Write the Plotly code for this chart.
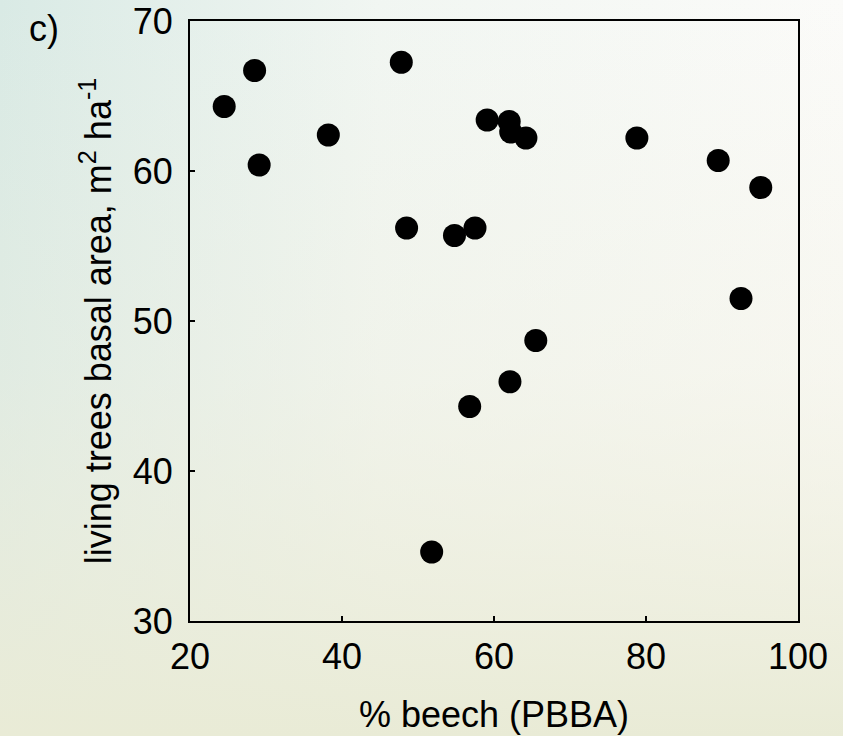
import base64
import plotly.graph_objects as go

# Data
pbba = [24.5, 28.5, 29.1, 38.2, 47.8, 48.5, 51.8, 54.8, 56.8, 57.5,
        59.1, 62.0, 62.2, 62.1, 64.2, 65.5, 78.8, 89.5, 92.5, 95.1]
basal_area = [64.3, 66.7, 60.4, 62.4, 67.25, 56.2, 34.6, 55.7, 44.3, 56.2,
              63.4, 63.3, 62.6, 45.95, 62.2, 48.7, 62.2, 60.7, 51.5, 58.9]
x_ticks = [20, 40, 60, 80, 100]
y_ticks = [30, 40, 50, 60, 70]

svg = """<svg xmlns='http://www.w3.org/2000/svg' width='843' height='736' preserveAspectRatio='none'>
<defs>
<linearGradient id='h' x1='0' y1='0' x2='1' y2='0'>
<stop offset='0' stop-color='#d9eae5'/>
<stop offset='0.45' stop-color='#f1f6f2'/>
<stop offset='1' stop-color='#fbfbf9'/>
</linearGradient>
<linearGradient id='v' x1='0' y1='0' x2='0' y2='1'>
<stop offset='0' stop-color='#efeedd' stop-opacity='0'/>
<stop offset='0.5' stop-color='#efeedd' stop-opacity='0.35'/>
<stop offset='1' stop-color='#e9ebd6' stop-opacity='1'/>
</linearGradient>
</defs>
<rect width='843' height='736' fill='url(#h)'/>
<rect width='843' height='736' fill='url(#v)'/>
</svg>"""
bg_uri = "data:image/svg+xml;base64," + base64.b64encode(svg.encode()).decode()

L, R, T, B = 190, 45, 21, 115
PW, PH = 843 - L - R, 736 - T - B

fig = go.Figure()
fig.add_trace(go.Scatter(
    x=pbba, y=basal_area, mode="markers",
    marker=dict(color="black", size=23, line=dict(width=0)),
    showlegend=False, hoverinfo="x+y",
))

font = dict(family="Liberation Sans, Arial, sans-serif", size=36, color="black")

fig.update_layout(
    width=843, height=736,
    margin=dict(l=L, r=R, t=T, b=B, autoexpand=False),
    paper_bgcolor="#f3f5ef",
    plot_bgcolor="white",
    font=font,
    images=[dict(source=bg_uri, xref="paper", yref="paper", x=-L/PW, y=1+T/PH,
                 sizex=843/PW, sizey=736/PH, sizing="stretch", layer="below",
                 xanchor="left", yanchor="top")],
    xaxis=dict(range=[20, 100], tickvals=x_ticks, ticks="inside", ticklen=5,
               tickwidth=1.5, tickcolor="black", showline=True, linecolor="black",
               linewidth=2, mirror=True, showgrid=False, zeroline=False,
               automargin=False, ticklabelstandoff=3,
               title=dict(text="% beech (PBBA)", standoff=26, font=font)),
    yaxis=dict(range=[30, 70], tickvals=y_ticks, ticks="inside", ticklen=5,
               tickwidth=1.5, tickcolor="black", showline=True, linecolor="black",
               linewidth=2, mirror=True, showgrid=False, zeroline=False,
               automargin=False, ticklabelstandoff=8,
               title=dict(text="living trees basal area, m<sup>2</sup> ha<sup>-1</sup>",
                          standoff=10, font=font)),
    annotations=[dict(text="c)", xref="paper", yref="paper", x=(27 - L)/PW,
                      y=1 + (T - 28)/PH, xanchor="left", yanchor="middle",
                      showarrow=False, font=font)],
)

fig.write_html("out.html", config={"displayModeBar": False},
               post_script="document.body.style.margin='0';")
